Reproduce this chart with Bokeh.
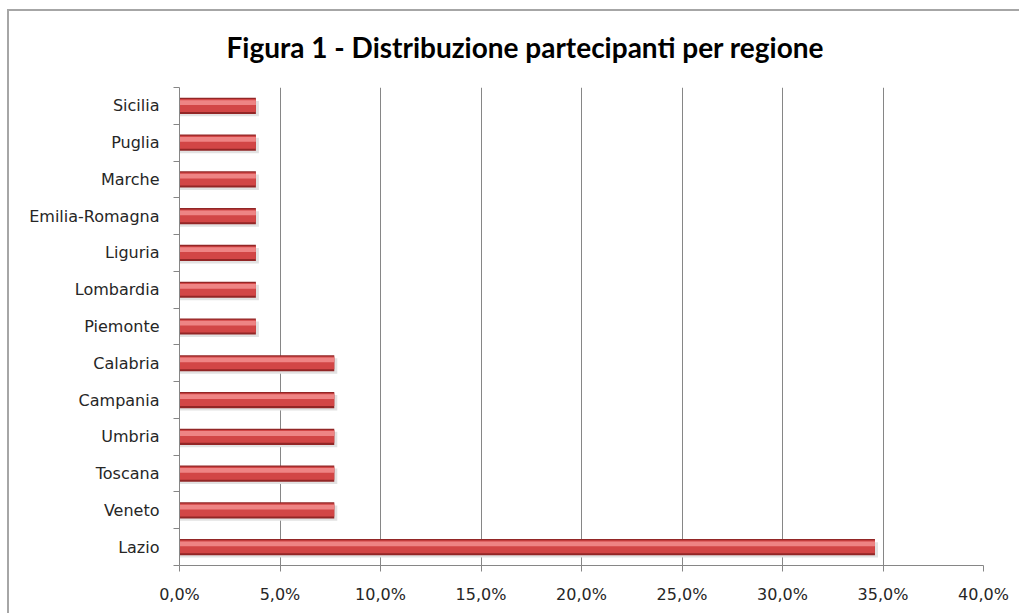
from bokeh.plotting import figure
from bokeh.models import FixedTicker, ColumnDataSource
from bokeh.embed import file_html
from bokeh.resources import INLINE

regions = ["Lazio", "Veneto", "Toscana", "Umbria", "Campania", "Calabria",
           "Piemonte", "Lombardia", "Liguria", "Emilia-Romagna", "Marche",
           "Puglia", "Sicilia"]
values = [34.6, 7.7, 7.7, 7.7, 7.7, 7.7, 3.8, 3.8, 3.8, 3.8, 3.8, 3.8, 3.8]
x_ticks = [0, 5, 10, 15, 20, 25, 30, 35, 40]
x_tick_labels = ["0,0%", "5,0%", "10,0%", "15,0%", "20,0%", "25,0%",
                 "30,0%", "35,0%", "40,0%"]
title_text = "Figura 1 - Distribuzione partecipanti per regione"

pos = list(range(len(regions)))
src = ColumnDataSource(dict(
    y=pos,
    y_shadow=[p - 0.075 for p in pos],
    y_mid=[p + 0.01 for p in pos],
    y_hi=[p + 0.09 for p in pos],
    right=values,
    right_shadow=[v + 0.15 for v in values],
))

p = figure(width=1019, height=613, x_range=(0, 40), y_range=(-0.5, 12.5),
           output_backend="svg", toolbar_location=None,
           min_border_left=179, min_border_right=36, min_border_top=87,
           min_border_bottom=48)

p.title.text = title_text
p.title.text_font = "Lato"
p.title.text_font_size = "28px"
p.title.text_font_style = "bold"
p.title.text_color = "#000000"
p.title.align = "left"
p.title.offset = 47
p.title.standoff = 47

p.border_fill_color = None
p.background_fill_color = "white"
p.outline_line_color = None
p.styles = {
    "background": ("linear-gradient(#a6a6a6,#a6a6a6) 7px 9px / 2px 100% no-repeat, "
                   "linear-gradient(#a6a6a6,#a6a6a6) 7px 9px / 100% 2px no-repeat, white"),
}

# bars: layered to imitate cylinder look
p.hbar(y="y_shadow", left=0, right="right_shadow", height=0.42, source=src,
       fill_color="#e2e2e2", line_color=None)
p.hbar(y="y", left=0, right="right", height=0.44, source=src,
       fill_color="#922626", line_color=None)
p.hbar(y="y_mid", left=0, right="right", height=0.35, source=src,
       fill_color="#d24646", line_color=None)
p.hbar(y="y_hi", left=0, right="right", height=0.13, source=src,
       fill_color="#ee8484", line_color=None)

# x axis
p.xaxis.ticker = FixedTicker(ticks=x_ticks)
p.xaxis.major_label_overrides = {t: l for t, l in zip(x_ticks, x_tick_labels)}
p.xaxis.major_tick_in = 0
p.xaxis.major_tick_out = 6
p.xaxis.minor_tick_line_color = None
p.xaxis.axis_line_color = "#868686"
p.xaxis.major_tick_line_color = "#868686"
p.xaxis.major_label_text_font = "DejaVu Sans"
p.xaxis.major_label_text_font_size = "16px"
p.xaxis.major_label_text_color = "#262626"
p.xaxis.major_label_standoff = 13

# y axis
p.yaxis.ticker = FixedTicker(ticks=pos, minor_ticks=[i - 0.5 for i in range(len(regions) + 1)])
p.yaxis.major_label_overrides = {i: r for i, r in enumerate(regions)}
p.yaxis.major_tick_in = 0
p.yaxis.major_tick_out = 0
p.yaxis.minor_tick_in = 0
p.yaxis.minor_tick_out = 6
p.yaxis.axis_line_color = "#868686"
p.yaxis.minor_tick_line_color = "#868686"
p.yaxis.major_label_text_font = "DejaVu Sans"
p.yaxis.major_label_text_font_size = "16px"
p.yaxis.major_label_text_color = "#262626"
p.yaxis.major_label_standoff = 14

p.xgrid.ticker = FixedTicker(ticks=x_ticks)
p.xgrid.grid_line_color = "#868686"
p.ygrid.grid_line_color = None

open("out.html", "w").write(file_html(p, INLINE))
